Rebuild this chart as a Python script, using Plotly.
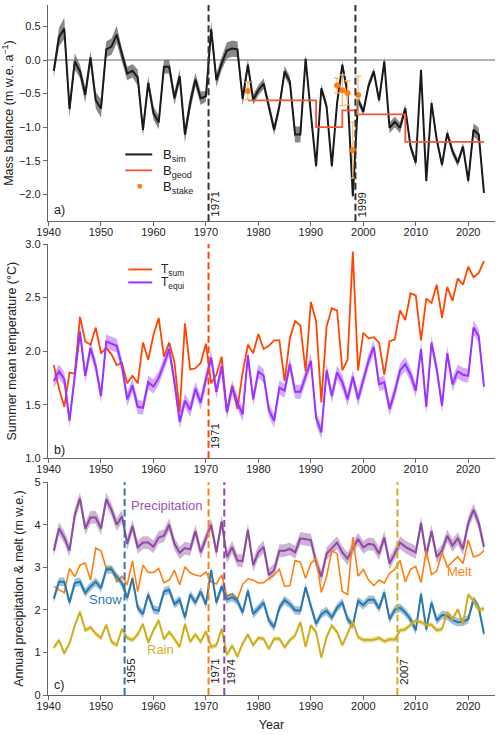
import plotly.graph_objects as go

# ---------------- data ----------------
years = list(range(1941, 2024))

b_sim = [-0.16, 0.34, 0.47, -0.73, -0.02, -0.17, -0.52, 0.04, -0.60, -0.72,
         0.16, 0.20, 0.38, 0.07, -0.20, -0.16, -0.26, -1.04, -0.34, -0.79,
         -0.93, -0.10, -0.10, -0.57, -0.24, -1.11, -0.64, -0.29, -0.57, -0.54,
         0.46, -0.30, -0.05, 0.14, 0.17, 0.16, -0.58, -0.07, -0.59, -0.45,
         -0.35, -0.69, -1.04, -0.69, -0.17, -0.32, -1.11, -1.11, 0.02, -0.80,
         -1.58, -0.42, -0.69, -1.58, -0.64, -0.07, -0.50, -2.03, -0.59, -0.77,
         -0.38, -0.17, -0.60, -0.02, -1.01, -0.92, -1.01, -0.72, -1.29, -1.53,
         -0.15, -1.80, -0.64, -1.19, -1.56, -1.09, -1.36, -1.53, -1.29, -1.80,
         -1.04, -1.11, -1.98]
b_sim_unc = [0.10, 0.14, 0.16, 0.12, 0.12, 0.10, 0.12, 0.10, 0.12, 0.14,
             0.12, 0.12, 0.13, 0.10, 0.10, 0.10, 0.12, 0.10, 0.10, 0.10,
             0.10, 0.10, 0.10, 0.10, 0.10, 0.12, 0.12, 0.10, 0.10, 0.08,
             0.12, 0.10, 0.10, 0.12, 0.12, 0.12, 0.10, 0.08, 0.08, 0.08,
             0.08, 0.08, 0.08, 0.08, 0.08, 0.08, 0.12, 0.12, 0.06, 0.06,
             0.06, 0.06, 0.06, 0.06, 0.06, 0.06, 0.06, 0.06, 0.06, 0.06,
             0.06, 0.06, 0.06, 0.06, 0.08, 0.08, 0.08, 0.06, 0.06, 0.06,
             0.06, 0.06, 0.06, 0.06, 0.06, 0.06, 0.06, 0.06, 0.06, 0.06,
             0.10, 0.10, 0.06]

geod_start = [1978, 1991, 1996, 1999, 2008]
geod_end = [1991, 1996, 1999, 2008, 2023]
geod_val = [-0.60, -1.00, -0.75, -0.81, -1.22]

stake_years = [1978, 1995, 1996, 1997, 1998, 1999]
stake_val = [-0.46, -0.38, -0.45, -0.49, -1.34, -0.52]
stake_err = [0.13, 0.11, 0.23, 0.18, 0.42, 0.28]

t_sum = [1.87, 1.65, 1.48, 1.80, 1.79, 2.32, 2.09, 2.06, 2.22, 1.98,
         2.03, 1.97, 1.87, 1.89, 1.70, 1.77, 1.70, 2.08, 1.92, 2.15,
         2.31, 1.95, 2.08, 1.90, 1.43, 2.26, 1.83, 1.84, 1.89, 2.07,
         1.70, 1.78, 1.95, 1.43, 1.68, 1.46, 1.80, 2.06, 1.98, 2.16,
         2.02, 2.05, 2.10, 2.10, 1.72, 2.12, 2.28, 2.24, 1.81, 2.46,
         2.28, 1.52, 2.23, 2.40, 2.38, 1.82, 1.92, 2.93, 1.82, 2.17,
         2.12, 2.13, 2.08, 1.78, 2.09, 2.11, 2.38, 2.29, 2.54, 2.52,
         2.10, 2.49, 2.45, 2.62, 2.31, 2.60, 2.47, 2.68, 2.62, 2.79,
         2.69, 2.73, 2.84]
t_equi = [1.72, 1.81, 1.74, 1.35, 1.77, 2.18, 1.77, 2.03, 1.86, 1.58,
          2.09, 2.07, 2.05, 1.86, 1.55, 1.68, 1.48, 1.47, 1.71, 1.67,
          1.75, 1.88, 2.02, 1.71, 1.34, 1.54, 1.45, 1.65, 1.52, 1.74,
          1.94, 1.62, 1.86, 1.43, 1.66, 1.52, 1.41, 1.96, 1.55, 1.81,
          1.77, 1.45, 1.35, 1.66, 1.63, 1.88, 1.62, 1.62, 1.77, 1.91,
          1.38, 1.24, 1.82, 1.58, 1.80, 1.71, 1.55, 1.76, 1.55, 1.74,
          1.91, 2.04, 1.69, 1.71, 1.46, 1.62, 1.82, 1.88, 1.78, 1.63,
          2.02, 1.48, 2.08, 1.83, 1.49, 1.98, 1.69, 1.81, 1.78, 1.77,
          2.22, 2.14, 1.67]
t_equi_unc = 0.065

precip = [3.39, 3.91, 3.70, 3.39, 4.23, 4.62, 3.91, 4.17, 4.17, 3.91,
          4.60, 4.35, 4.00, 4.20, 3.55, 3.97, 3.47, 3.58, 3.58, 3.48,
          3.70, 3.74, 4.00, 3.55, 3.34, 3.45, 3.42, 3.85, 3.35, 3.70,
          4.00, 3.35, 4.08, 3.24, 3.47, 3.16, 3.15, 3.88, 3.05, 3.35,
          3.48, 2.82, 2.93, 3.39, 3.39, 3.43, 3.35, 3.68, 3.66, 3.64,
          3.12, 2.78, 3.32, 3.45, 3.58, 3.35, 3.20, 3.45, 3.66, 3.47,
          3.55, 3.53, 3.32, 3.70, 3.09, 3.32, 3.58, 3.48, 3.41, 3.35,
          4.04, 3.28, 3.85, 3.24, 3.39, 3.74, 3.51, 3.68, 3.43, 4.04,
          4.35, 4.04, 3.48]
precip_unc = 0.15

melt = [2.55, 2.47, 2.40, 2.97, 2.78, 3.05, 3.10, 2.70, 3.45, 3.39,
        2.97, 2.99, 2.66, 2.79, 2.59, 3.15, 2.43, 3.05, 2.88, 2.88,
        2.97, 2.64, 2.70, 2.93, 2.59, 3.01, 2.87, 2.82, 2.79, 2.89,
        2.66, 2.61, 2.82, 2.32, 2.38, 2.24, 2.60, 2.73, 2.70, 2.63,
        2.64, 2.74, 2.82, 2.95, 2.55, 2.57, 3.16, 3.12, 2.74, 3.09,
        3.22, 2.41, 2.78, 3.39, 3.32, 2.43, 2.36, 3.71, 2.79, 2.95,
        2.70, 2.57, 2.70, 2.63, 2.86, 2.95, 3.16, 2.66, 2.95, 3.02,
        2.64, 3.39, 2.83, 2.91, 3.35, 3.01, 3.12, 3.25, 3.09, 3.64,
        3.24, 3.28, 3.39]

snow = [2.26, 2.66, 2.66, 2.17, 2.63, 2.66, 2.40, 2.55, 2.66, 2.51,
        2.95, 2.95, 2.78, 2.63, 2.28, 2.74, 2.05, 1.90, 2.36, 2.01,
        1.98, 2.43, 2.47, 2.13, 2.24, 1.82, 2.36, 2.17, 2.43, 2.13,
        2.93, 2.17, 2.55, 2.24, 2.30, 2.21, 1.94, 2.45, 1.90, 2.03,
        2.17, 1.75, 1.59, 2.05, 2.23, 2.13, 1.99, 1.98, 2.53, 2.09,
        1.67, 1.90, 1.98, 1.82, 2.05, 2.17, 1.78, 1.63, 2.21, 2.11,
        2.24, 2.24, 2.03, 2.41, 1.78, 2.00, 2.05, 1.94, 1.78, 1.52,
        2.38, 1.54, 2.17, 1.75, 1.88, 1.86, 1.76, 1.71, 1.72, 1.78,
        2.24, 2.05, 1.44]
snow_unc = 0.1

rain = [1.11, 1.29, 0.98, 1.21, 1.63, 1.95, 1.52, 1.59, 1.44, 1.34,
        1.65, 1.25, 1.17, 1.55, 1.34, 1.29, 1.42, 1.67, 1.23, 1.52,
        1.75, 1.31, 1.48, 1.32, 1.13, 1.67, 1.25, 1.42, 1.25, 1.49,
        1.13, 1.17, 1.55, 0.94, 1.16, 0.90, 1.21, 1.42, 1.17, 1.34,
        1.32, 1.08, 1.32, 1.32, 1.12, 1.29, 1.40, 1.71, 1.13, 1.63,
        1.48, 0.88, 1.36, 1.63, 1.48, 1.17, 1.44, 1.72, 1.36, 1.29,
        1.29, 1.30, 1.34, 1.26, 1.31, 1.30, 1.52, 1.54, 1.65, 1.75,
        1.71, 1.65, 1.65, 1.52, 1.55, 1.94, 1.78, 2.01, 1.67, 2.36,
        2.21, 2.00, 2.03]
rain_unc = 0.06

x_ticks = [1940, 1950, 1960, 1970, 1980, 1990, 2000, 2010, 2020]

# event markers (drawn at year boundaries)
events_a = [1971, 1999]
events_b = [1971]
events_c = [1955, 1971, 1974, 2007]

# ---------------- style ----------------
FONT = "Liberation Sans, Arial, sans-serif"
W, H = 500, 735
ML, MR, MT, MB = 47.7, 5, 5, 37.3

C_SIM = "#1a1a1a"
C_SIM_BAND = "rgba(85,85,85,0.7)"
C_GEOD = "#f25536"
C_STAKE = "#ff7f0e"
C_TSUM = "#ff4500"
C_TEQ = "#9933ff"
C_TEQ_BAND = "rgba(153,51,255,0.42)"
C_PRE = "#8c4aa0"
C_PRE_BAND = "rgba(140,74,160,0.42)"
C_MELT = "#ff7f0e"
C_SNOW = "#2a78ad"
C_SNOW_BAND = "rgba(42,120,173,0.45)"
C_RAIN = "#cfae1d"
C_RAIN_BAND = "rgba(207,174,29,0.4)"
C_AX = "#666666"


def px(x):
    return (x - ML) / (W - ML - MR)


def py(y):
    return (H - MB - y) / (H - MT - MB)


fig = go.Figure()


def band(xa, ya, vals, unc, color):
    if isinstance(unc, list):
        hi = [v + u for v, u in zip(vals, unc)]
        lo = [v - u for v, u in zip(vals, unc)]
    else:
        hi = [v + unc for v in vals]
        lo = [v - unc for v in vals]
    fig.add_trace(go.Scatter(x=years + years[::-1], y=hi + lo[::-1], fill="toself",
                             fillcolor=color, line=dict(width=0), mode="lines",
                             hoverinfo="skip", showlegend=False, xaxis=xa, yaxis=ya))


def line(xa, ya, x, y, color, width=2.0, shape="linear"):
    fig.add_trace(go.Scatter(x=x, y=y, mode="lines", line=dict(color=color, width=width, shape=shape),
                             showlegend=False, xaxis=xa, yaxis=ya))


# panel a
band("x", "y", b_sim, b_sim_unc, C_SIM_BAND)
line("x", "y", years, b_sim, C_SIM, 2.0)
gx = geod_start + [geod_end[-1]]
gy = geod_val + [geod_val[-1]]
line("x", "y", gx, gy, C_GEOD, 1.8, "hv")
fig.add_trace(go.Scatter(x=stake_years, y=stake_val, mode="markers",
                         marker=dict(color=C_STAKE, size=6),
                         error_y=dict(type="data", array=stake_err, color="#ffb266", thickness=1.2, width=3),
                         showlegend=False, xaxis="x", yaxis="y"))

# panel b
line("x2", "y2", years, t_sum, C_TSUM, 1.8)
band("x2", "y2", t_equi, t_equi_unc, C_TEQ_BAND)
line("x2", "y2", years, t_equi, C_TEQ, 2.0)

# panel c
band("x3", "y3", precip, precip_unc, C_PRE_BAND)
line("x3", "y3", years, precip, C_PRE, 2.0)
line("x3", "y3", years, melt, C_MELT, 1.6)
band("x3", "y3", snow, snow_unc, C_SNOW_BAND)
line("x3", "y3", years, snow, C_SNOW, 2.0)
band("x3", "y3", rain, rain_unc, C_RAIN_BAND)
line("x3", "y3", years, rain, C_RAIN, 2.0)

# ---------------- axes ----------------
xcommon = dict(range=[1939.9, 2025.1], tickvals=x_ticks, showline=True, linecolor=C_AX, linewidth=1.3,
               ticks="outside", ticklen=3.5, tickcolor=C_AX, tickwidth=1.2, ticklabelstandoff=-3,
               tickfont=dict(size=11, color="#222"), showgrid=False, zeroline=False)
ycommon = dict(showline=True, linecolor=C_AX, linewidth=1.3, ticks="outside", ticklen=4,
               tickcolor=C_AX, tickwidth=1.2, tickfont=dict(size=11, color="#222"),
               showgrid=False, zeroline=False, automargin=False)

dom_a = [py(222), 1.0]
dom_b = [py(460), py(245)]
dom_c = [0.0, py(484)]

fig.update_layout(
    width=W, height=H, margin=dict(l=ML, r=MR, t=MT, b=MB),
    paper_bgcolor="white", plot_bgcolor="white",
    font=dict(family=FONT, size=11, color="#222"),
    showlegend=False,
    xaxis=dict(xcommon, anchor="y", domain=[0, 1]),
    yaxis=dict(ycommon, domain=dom_a, range=[-2.4, 0.82], tick0=0, dtick=0.5, tickformat=".1f",
               title=dict(text="Mass balance (m w.e. a<sup>−1</sup>)", font=dict(size=12.5), standoff=5)),
    xaxis2=dict(xcommon, anchor="y2", domain=[0, 1]),
    yaxis2=dict(ycommon, domain=dom_b, range=[1.0, 3.0], tick0=1, dtick=0.5, tickformat=".1f",
                title=dict(text="Summer mean temperature (°C)", font=dict(size=12.5), standoff=5)),
    xaxis3=dict(xcommon, anchor="y3", domain=[0, 1],
                title=dict(text="Year", font=dict(size=12.5), standoff=9)),
    yaxis3=dict(ycommon, domain=dom_c, range=[0, 5], tick0=0, dtick=1,
                title=dict(text="Annual precipitation &amp; melt (m w.e.)", font=dict(size=12.5), standoff=8)),
)

shapes = []
# zero line in panel a
shapes.append(dict(type="line", xref="x domain", yref="y", x0=0, x1=1, y0=0, y1=0,
                   line=dict(color="#9a9a9a", width=1.5), layer="below"))


def vline(xref, yref, yr, color):
    shapes.append(dict(type="line", xref=xref, yref=yref + " domain", x0=yr - 0.5, x1=yr - 0.5, y0=0, y1=1,
                       line=dict(color=color, width=2, dash="7px,3.5px")))


for e in events_a:
    vline("x", "y", e, "#333333")
vline("x2", "y2", events_b[0], C_TSUM)
vline("x3", "y3", events_c[0], C_SNOW)
vline("x3", "y3", events_c[1], C_MELT)
vline("x3", "y3", events_c[2], C_PRE)
vline("x3", "y3", events_c[3], C_RAIN)

# manual legends
shapes.append(dict(type="line", xref="paper", yref="paper", x0=px(125), x1=px(152), y0=py(155), y1=py(155),
                   line=dict(color=C_SIM, width=2)))
shapes.append(dict(type="line", xref="paper", yref="paper", x0=px(125), x1=px(152), y0=py(171), y1=py(171),
                   line=dict(color=C_GEOD, width=1.8)))
shapes.append(dict(type="circle", xref="paper", yref="paper", x0=px(137), x1=px(142), y0=py(184.5), y1=py(189.5),
                   fillcolor=C_STAKE, line=dict(width=0)))
shapes.append(dict(type="line", xref="paper", yref="paper", x0=px(128), x1=px(152), y0=py(270.5), y1=py(270.5),
                   line=dict(color=C_TSUM, width=1.8)))
shapes.append(dict(type="line", xref="paper", yref="paper", x0=px(128), x1=px(152), y0=py(283.5), y1=py(283.5),
                   line=dict(color=C_TEQ, width=2)))
fig.update_layout(shapes=shapes)

ann = []


def text(x, y, s, size=12.5, color="#222", xanchor="left", yanchor="middle"):
    ann.append(dict(x=x, y=y, xref="paper", yref="paper", text=s, showarrow=False, xanchor=xanchor,
                    yanchor=yanchor, font=dict(size=size, color=color, family=FONT)))


text(px(161), py(156), "B<sub>sim</sub>", size=13)
text(px(161), py(172), "B<sub>geod</sub>", size=13)
text(px(161), py(188), "B<sub>stake</sub>", size=13)
text(px(159), py(271), "T<sub>sum</sub>", size=12)
text(px(159), py(284.5), "T<sub>equi</sub>", size=12)

text(px(52), py(211), "a)", size=12.5)
text(px(52), py(452), "b)", size=12.5)
text(px(52), py(688), "c)", size=12.5)

# rotated event labels
for e in events_a:
    ann.append(dict(x=e - 0.5, y=py(220), xref="x", yref="paper", text=str(e), showarrow=False,
                    xanchor="left", yanchor="bottom", textangle=-90, xshift=-1,
                    font=dict(size=11.5, color="#222", family=FONT)))
ann.append(dict(x=events_b[0] - 0.5, y=py(453), xref="x2", yref="paper", text=str(events_b[0]), showarrow=False,
                xanchor="left", yanchor="bottom", textangle=-90, xshift=-1,
                font=dict(size=11.5, color="#222", family=FONT)))
for e in events_c:
    ann.append(dict(x=e - 0.5, y=py(689), xref="x3", yref="paper", text=str(e), showarrow=False,
                    xanchor="left", yanchor="bottom", textangle=-90, xshift=-1,
                    font=dict(size=11.5, color="#222", family=FONT)))

# series labels in panel c
text(px(167), py(507.5), "Precipitation", size=13, color="#9a52b5", xanchor="center")
text(px(105), py(602), "Snow", size=13, color=C_SNOW, xanchor="center")
text(px(160), py(652.5), "Rain", size=13, color=C_RAIN, xanchor="center")
text(px(459.5), py(574), "Melt", size=13, color=C_MELT, xanchor="center")

fig.update_layout(annotations=ann)

fig.write_html("out.html")
